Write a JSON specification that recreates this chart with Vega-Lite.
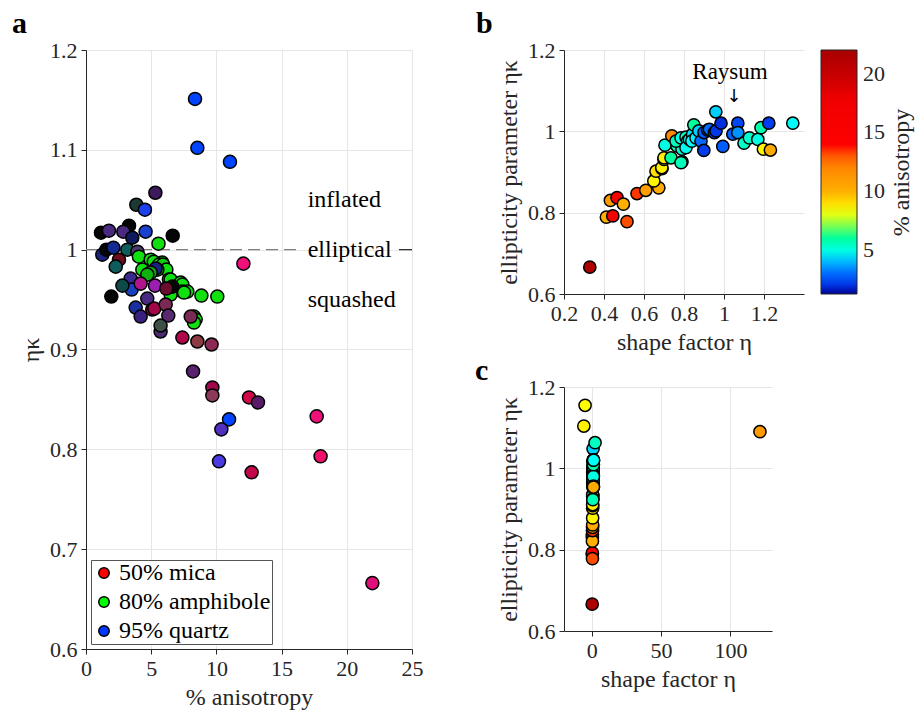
{
  "$schema": "https://vega.github.io/schema/vega-lite/v6.json",
  "background": "white",
  "padding": {"left": 12, "top": 9, "right": 5, "bottom": 5},
  "config": {
    "font": "Liberation Serif",
    "view": {"stroke": null},
    "axis": {
      "labelFont": "Liberation Serif", "titleFont": "Liberation Serif",
      "labelFontSize": 22, "titleFontSize": 24, "titleFontWeight": "normal",
      "labelColor": "#262626", "titleColor": "#262626",
      "domainColor": "#262626", "domainWidth": 1, "tickColor": "#262626",
      "gridColor": "#E6E6E6", "gridWidth": 1, "tickSize": 5, "labelPadding": 4,
      "labelOverlap": false, "labelFlush": false
    },
    "legend": {"labelFont": "Liberation Serif", "titleFont": "Liberation Serif"},
    "title": {"font": "Liberation Serif"}
  },
  "datasets": {
    "composition": [
      {"an": 8.36, "ek": 1.151, "col": "#0044FF"},
      {"an": 8.54, "ek": 1.102, "col": "#0044FF"},
      {"an": 11.04, "ek": 1.088, "col": "#0044FF"},
      {"an": 5.32, "ek": 1.057, "col": "#3D1A5C"},
      {"an": 3.86, "ek": 1.045, "col": "#1C3A33"},
      {"an": 4.52, "ek": 1.040, "col": "#1A40F0"},
      {"an": 3.30, "ek": 1.024, "col": "#050505"},
      {"an": 1.15, "ek": 1.017, "col": "#050505"},
      {"an": 1.76, "ek": 1.019, "col": "#4A2A80"},
      {"an": 2.86, "ek": 1.018, "col": "#4A2A80"},
      {"an": 3.55, "ek": 1.012, "col": "#0F1A5C"},
      {"an": 4.57, "ek": 1.018, "col": "#1A40D0"},
      {"an": 6.65, "ek": 1.014, "col": "#050505"},
      {"an": 5.56, "ek": 1.006, "col": "#10E010"},
      {"an": 1.25, "ek": 0.995, "col": "#1A237E"},
      {"an": 1.56, "ek": 1.000, "col": "#050505"},
      {"an": 2.10, "ek": 1.002, "col": "#0F2A90"},
      {"an": 3.17, "ek": 1.000, "col": "#0F5C5C"},
      {"an": 2.53, "ek": 0.990, "col": "#6B0D1F"},
      {"an": 3.94, "ek": 0.998, "col": "#4A3A6B"},
      {"an": 2.28, "ek": 0.983, "col": "#0F5C5C"},
      {"an": 4.06, "ek": 0.993, "col": "#10E010"},
      {"an": 4.96, "ek": 0.990, "col": "#10E010"},
      {"an": 5.2, "ek": 0.988, "col": "#10E010"},
      {"an": 5.85, "ek": 0.987, "col": "#10E010"},
      {"an": 5.6, "ek": 0.985, "col": "#10E010"},
      {"an": 5.9, "ek": 0.985, "col": "#10D010"},
      {"an": 6.16, "ek": 0.980, "col": "#10E010"},
      {"an": 5.47, "ek": 0.980, "col": "#10E010"},
      {"an": 4.32, "ek": 0.980, "col": "#10E010"},
      {"an": 5.34, "ek": 0.981, "col": "#1A237E"},
      {"an": 4.96, "ek": 0.977, "col": "#10A010"},
      {"an": 4.70, "ek": 0.975, "col": "#10B010"},
      {"an": 6.36, "ek": 0.970, "col": "#10E010"},
      {"an": 6.49, "ek": 0.970, "col": "#10E010"},
      {"an": 7.26, "ek": 0.967, "col": "#10E010"},
      {"an": 7.39, "ek": 0.965, "col": "#10E010"},
      {"an": 7.77, "ek": 0.958, "col": "#10E010"},
      {"an": 7.39, "ek": 0.958, "col": "#10E010"},
      {"an": 7.52, "ek": 0.957, "col": "#10E010"},
      {"an": 6.49, "ek": 0.955, "col": "#10E010"},
      {"an": 6.62, "ek": 0.963, "col": "#050505"},
      {"an": 8.85, "ek": 0.954, "col": "#10E010"},
      {"an": 10.07, "ek": 0.953, "col": "#10E010"},
      {"an": 3.42, "ek": 0.971, "col": "#3A2A90"},
      {"an": 3.50, "ek": 0.960, "col": "#1A40C0"},
      {"an": 2.79, "ek": 0.964, "col": "#0F4A4A"},
      {"an": 4.19, "ek": 0.966, "col": "#B0168C"},
      {"an": 5.29, "ek": 0.964, "col": "#9A1FB0"},
      {"an": 6.16, "ek": 0.961, "col": "#6B0D2F"},
      {"an": 1.94, "ek": 0.953, "col": "#050505"},
      {"an": 3.81, "ek": 0.942, "col": "#1A30A0"},
      {"an": 4.70, "ek": 0.951, "col": "#4A2A80"},
      {"an": 5.08, "ek": 0.940, "col": "#A00848"},
      {"an": 5.24, "ek": 0.941, "col": "#A00848"},
      {"an": 6.11, "ek": 0.945, "col": "#7A2A55"},
      {"an": 6.31, "ek": 0.934, "col": "#5A2A70"},
      {"an": 4.19, "ek": 0.933, "col": "#3A2080"},
      {"an": 8.28, "ek": 0.933, "col": "#10E010"},
      {"an": 8.41, "ek": 0.930, "col": "#10E010"},
      {"an": 8.28, "ek": 0.927, "col": "#10E010"},
      {"an": 8.03, "ek": 0.933, "col": "#7A2A55"},
      {"an": 5.72, "ek": 0.918, "col": "#4A2A70"},
      {"an": 5.72, "ek": 0.924, "col": "#3C5048"},
      {"an": 7.39, "ek": 0.912, "col": "#B00848"},
      {"an": 8.54, "ek": 0.908, "col": "#8C3A44"},
      {"an": 9.63, "ek": 0.905, "col": "#8C2A55"},
      {"an": 8.21, "ek": 0.878, "col": "#5A2070"},
      {"an": 9.69, "ek": 0.862, "col": "#A0084A"},
      {"an": 9.69, "ek": 0.854, "col": "#8C3A5A"},
      {"an": 12.5, "ek": 0.852, "col": "#D0084A"},
      {"an": 13.19, "ek": 0.847, "col": "#5A1A6A"},
      {"an": 10.97, "ek": 0.830, "col": "#0044FF"},
      {"an": 10.38, "ek": 0.820, "col": "#5030C0"},
      {"an": 17.69, "ek": 0.833, "col": "#F0107A"},
      {"an": 17.99, "ek": 0.793, "col": "#F0106A"},
      {"an": 10.2, "ek": 0.788, "col": "#4A3AE0"},
      {"an": 12.7, "ek": 0.777, "col": "#C0084A"},
      {"an": 21.96, "ek": 0.666, "col": "#E0107A"},
      {"an": 12.07, "ek": 0.986, "col": "#F0107A"}
    ],
    "shape": [
      {"eta": 0.329, "ek": 0.666, "an": 21.5},
      {"eta": 0.412, "ek": 0.789, "an": 10.0},
      {"eta": 0.444, "ek": 0.792, "an": 16},
      {"eta": 0.432, "ek": 0.830, "an": 11.0},
      {"eta": 0.465, "ek": 0.837, "an": 16},
      {"eta": 0.497, "ek": 0.821, "an": 10.0},
      {"eta": 0.515, "ek": 0.778, "an": 13.2},
      {"eta": 0.565, "ek": 0.847, "an": 13.6},
      {"eta": 0.609, "ek": 0.855, "an": 10.8},
      {"eta": 0.674, "ek": 0.861, "an": 10.2},
      {"eta": 0.649, "ek": 0.878, "an": 8.5},
      {"eta": 0.66, "ek": 0.902, "an": 9.0},
      {"eta": 0.69, "ek": 0.908, "an": 8.4},
      {"eta": 0.689, "ek": 0.911, "an": 8.6},
      {"eta": 0.70, "ek": 0.931, "an": 8.3},
      {"eta": 0.70, "ek": 0.935, "an": 8.6},
      {"eta": 0.735, "ek": 0.935, "an": 6.0},
      {"eta": 0.705, "ek": 0.966, "an": 5.0},
      {"eta": 0.739, "ek": 0.989, "an": 12.0},
      {"eta": 0.769, "ek": 0.964, "an": 6.2},
      {"eta": 0.765, "ek": 0.964, "an": 5.6},
      {"eta": 0.79, "ek": 0.956, "an": 5.2},
      {"eta": 0.79, "ek": 0.925, "an": 5.6},
      {"eta": 0.785, "ek": 0.923, "an": 5.6},
      {"eta": 0.76, "ek": 0.976, "an": 5.6},
      {"eta": 0.785, "ek": 0.984, "an": 5.0},
      {"eta": 0.81, "ek": 0.986, "an": 5.5},
      {"eta": 0.818, "ek": 0.976, "an": 4.9},
      {"eta": 0.81, "ek": 0.960, "an": 4.8},
      {"eta": 0.827, "ek": 0.980, "an": 4.8},
      {"eta": 0.843, "ek": 0.993, "an": 4.4},
      {"eta": 0.849, "ek": 1.016, "an": 6.0},
      {"eta": 0.839, "ek": 0.976, "an": 4.6},
      {"eta": 0.86, "ek": 0.984, "an": 4.5},
      {"eta": 0.874, "ek": 1.001, "an": 4.2},
      {"eta": 0.885, "ek": 0.976, "an": 3.0},
      {"eta": 0.899, "ek": 0.953, "an": 2.2},
      {"eta": 0.90, "ek": 0.997, "an": 2.8},
      {"eta": 0.919, "ek": 1.003, "an": 3.5},
      {"eta": 0.927, "ek": 1.005, "an": 3.0},
      {"eta": 0.952, "ek": 0.997, "an": 2.6},
      {"eta": 0.96, "ek": 1.001, "an": 2.1},
      {"eta": 0.959, "ek": 1.048, "an": 4.2},
      {"eta": 0.985, "ek": 1.020, "an": 1.9},
      {"eta": 0.994, "ek": 0.963, "an": 2.8},
      {"eta": 1.044, "ek": 0.993, "an": 2.8},
      {"eta": 1.069, "ek": 1.020, "an": 2.4},
      {"eta": 1.069, "ek": 0.997, "an": 3.6},
      {"eta": 1.10, "ek": 0.971, "an": 5.4},
      {"eta": 1.127, "ek": 0.984, "an": 5.3},
      {"eta": 1.169, "ek": 0.980, "an": 5.0},
      {"eta": 1.185, "ek": 1.009, "an": 5.8},
      {"eta": 1.197, "ek": 0.956, "an": 8.5},
      {"eta": 1.232, "ek": 0.954, "an": 10.3},
      {"eta": 1.224, "ek": 1.020, "an": 2.2},
      {"eta": 1.344, "ek": 1.020, "an": 4.7},
      {"eta": -4.8, "ek": 1.155, "an": 8.3},
      {"eta": -5.7, "ek": 1.104, "an": 8.6},
      {"eta": 121.3, "ek": 1.090, "an": 11.0},
      {"eta": 2.4, "ek": 1.063, "an": 5.5}
    ]
  },
  "bounds": "flush",
  "spacing": 152,
  "resolve": {"scale": {"color": "independent"}},
  "hconcat": [
    {
      "width": 326,
      "height": 599,
      "title": {"text": "a", "anchor": "start", "frame": "group", "dx": -74, "offset": 0, "fontSize": 30, "fontWeight": "bold", "color": "black"},
      "layer": [
        {
          "data": {"values": [{"x": 0, "x2": 16.3, "y": 1}]},
          "mark": {"type": "rule", "color": "#808080", "strokeWidth": 1.2, "strokeDash": [12, 6]},
          "encoding": {
            "x": {"field": "x", "type": "quantitative"},
            "x2": {"field": "x2"},
            "y": {"field": "y", "type": "quantitative"}
          }
        },
        {
          "data": {"values": [{"x": 24, "x2": 25, "y": 1}]},
          "mark": {"type": "rule", "color": "#262626", "strokeWidth": 1.2},
          "encoding": {
            "x": {"field": "x", "type": "quantitative"},
            "x2": {"field": "x2"},
            "y": {"field": "y", "type": "quantitative"}
          }
        },
        {
          "data": {"name": "composition"},
          "mark": {"type": "circle", "size": 170, "stroke": "black", "strokeWidth": 1.5, "opacity": 1},
          "encoding": {
            "x": {"field": "an", "type": "quantitative", "scale": {"domain": [0, 25], "nice": false},
                  "axis": {"title": "% anisotropy", "values": [0, 5, 10, 15, 20, 25], "grid": true, "titlePadding": 6}},
            "y": {"field": "ek", "type": "quantitative", "scale": {"domain": [0.6, 1.2], "nice": false, "zero": false},
                  "axis": {"title": "ηκ", "values": [0.6, 0.7, 0.8, 0.9, 1, 1.1, 1.2], "format": "~g", "grid": true, "titlePadding": 6}},
            "fill": {"field": "col", "type": "nominal", "scale": null}
          }
        },
        {
          "data": {"values": [
            {"x": 17, "y": 1.05, "t": "inflated"},
            {"x": 17, "y": 1.0, "t": "elliptical"},
            {"x": 17, "y": 0.95, "t": "squashed"}
          ]},
          "mark": {"type": "text", "align": "left", "baseline": "middle", "fontSize": 24, "color": "black", "font": "Liberation Serif"},
          "encoding": {
            "x": {"field": "x", "type": "quantitative"},
            "y": {"field": "y", "type": "quantitative"},
            "text": {"field": "t"}
          }
        },
        {
          "data": {"values": [{"m": "50% mica"}, {"m": "80% amphibole"}, {"m": "95% quartz"}]},
          "mark": {"type": "circle", "opacity": 0, "stroke": "black", "strokeWidth": 1.5},
          "encoding": {
            "color": {"field": "m", "type": "nominal",
              "scale": {"domain": ["50% mica", "80% amphibole", "95% quartz"], "range": ["#FF0000", "#00FF00", "#0038FF"]},
              "legend": {"orient": "bottom-left", "title": null, "offset": 5, "padding": 1, "rowPadding": 5,
                "labelFontSize": 24, "labelColor": "black", "labelOffset": 3, "labelLimit": 300,
                "symbolType": "circle", "symbolSize": 110, "symbolOpacity": 1, "symbolStrokeColor": "black", "symbolStrokeWidth": 1.5,
                "strokeColor": "#555555", "fillColor": "white", "cornerRadius": 0}
            }
          }
        }
      ]
    },
    {
      "bounds": "flush",
      "spacing": 93,
      "resolve": {"scale": {"color": "independent"}},
      "vconcat": [
        {
          "width": 240,
          "height": 244,
          "title": {"text": "b", "anchor": "start", "frame": "group", "dx": -88, "offset": 0, "fontSize": 30, "fontWeight": "bold", "color": "black"},
          "resolve": {"scale": {"y": "independent"}, "axis": {"y": "independent"}},
          "layer": [
            {
              "data": {"name": "shape"},
              "mark": {"type": "circle", "size": 150, "stroke": "black", "strokeWidth": 1.5, "opacity": 1, "clip": true},
              "encoding": {
                "x": {"field": "eta", "type": "quantitative", "scale": {"domain": [0.2, 1.4], "nice": false, "zero": false},
                      "axis": {"title": "shape factor η", "values": [0.2, 0.4, 0.6, 0.8, 1, 1.2], "format": "~g", "grid": true, "titlePadding": 6}},
                "y": {"field": "ek", "type": "quantitative", "scale": {"domain": [0.6, 1.2], "nice": false, "zero": false},
                      "axis": {"title": "ellipticity parameter ηκ", "values": [0.6, 0.8, 1, 1.2], "format": "~g", "grid": true, "titlePadding": 6}},
                "color": {"field": "an", "type": "quantitative",
                  "scale": {"type": "linear", "interpolate": "rgb",
                    "domain": [1.27, 1.6, 2.6, 3.8, 4.6, 6.2, 7.3, 8.3, 10, 12.3, 13.7, 14, 17.9, 19.3, 22],
                    "range": ["#000090", "#0020D0", "#0050FF", "#00A0FF", "#00FFFF", "#00FF90", "#A0FF40", "#FFFF00", "#FFB000", "#FF8000", "#FF3000", "#FF0000", "#F00000", "#D00000", "#A80000"]},
                  "legend": {"type": "gradient", "direction": "vertical", "orient": "none", "legendX": 257, "legendY": 0, "padding": 0,
                    "gradientLength": 244, "gradientThickness": 36, "gradientStrokeColor": "#262626", "gradientStrokeWidth": 1,
                    "values": [5, 10, 15, 20], "labelFontSize": 22, "labelColor": "#262626", "labelOffset": 6,
                    "title": null}
                }
              }
            },
            {
              "data": {"values": [{"an": 1.27}, {"an": 22}]},
              "mark": {"type": "point", "opacity": 0},
              "encoding": {
                "y": {"field": "an", "type": "quantitative", "scale": {"domain": [1.27, 22], "nice": false, "zero": false},
                      "axis": {"orient": "right", "title": "% anisotropy", "titleAngle": 270, "titleBaseline": "middle", "titleAlign": "center",
                               "offset": 97, "titlePadding": 0, "domain": false, "ticks": false, "labels": false, "grid": false}}
              }
            },
            {
              "data": {"values": [{"x": 1.03, "y": 1.145, "t": "Raysum"}]},
              "mark": {"type": "text", "align": "center", "baseline": "middle", "fontSize": 23, "color": "black", "font": "Liberation Serif"},
              "encoding": {
                "x": {"field": "x", "type": "quantitative"},
                "y": {"field": "y", "type": "quantitative", "scale": {"domain": [0.6, 1.2], "nice": false, "zero": false}, "axis": null},
                "text": {"field": "t"}
              }
            },
            {
              "data": {"values": [{"x": 1.05, "y": 1.107, "t": "↓"}]},
              "mark": {"type": "text", "align": "center", "baseline": "top", "fontSize": 18, "color": "black", "font": "DejaVu Sans"},
              "encoding": {
                "x": {"field": "x", "type": "quantitative"},
                "y": {"field": "y", "type": "quantitative", "scale": {"domain": [0.6, 1.2], "nice": false, "zero": false}, "axis": null},
                "text": {"field": "t"}
              }
            }
          ]
        },
        {
          "width": 208,
          "height": 244,
          "title": {"text": "c", "anchor": "start", "frame": "group", "dx": -89, "offset": -10, "fontSize": 30, "fontWeight": "bold", "color": "black"},
          "data": {"name": "shape"},
          "mark": {"type": "circle", "size": 150, "stroke": "black", "strokeWidth": 1.5, "opacity": 1},
          "encoding": {
            "x": {"field": "eta", "type": "quantitative", "scale": {"domain": [-20, 130], "nice": false, "zero": false},
                  "axis": {"title": "shape factor η", "values": [0, 50, 100], "grid": true, "titlePadding": 6}},
            "y": {"field": "ek", "type": "quantitative", "scale": {"domain": [0.6, 1.2], "nice": false, "zero": false},
                  "axis": {"title": "ellipticity parameter ηκ", "values": [0.6, 0.8, 1, 1.2], "format": "~g", "grid": true, "titlePadding": 6}},
            "color": {"field": "an", "type": "quantitative",
              "scale": {"type": "linear", "interpolate": "rgb",
                "domain": [1.27, 1.6, 2.6, 3.8, 4.6, 6.2, 7.3, 8.3, 10, 12.3, 13.7, 14, 17.9, 19.3, 22],
                "range": ["#000090", "#0020D0", "#0050FF", "#00A0FF", "#00FFFF", "#00FF90", "#A0FF40", "#FFFF00", "#FFB000", "#FF8000", "#FF3000", "#FF0000", "#F00000", "#D00000", "#A80000"]},
              "legend": null
            }
          }
        }
      ]
    }
  ]
}
